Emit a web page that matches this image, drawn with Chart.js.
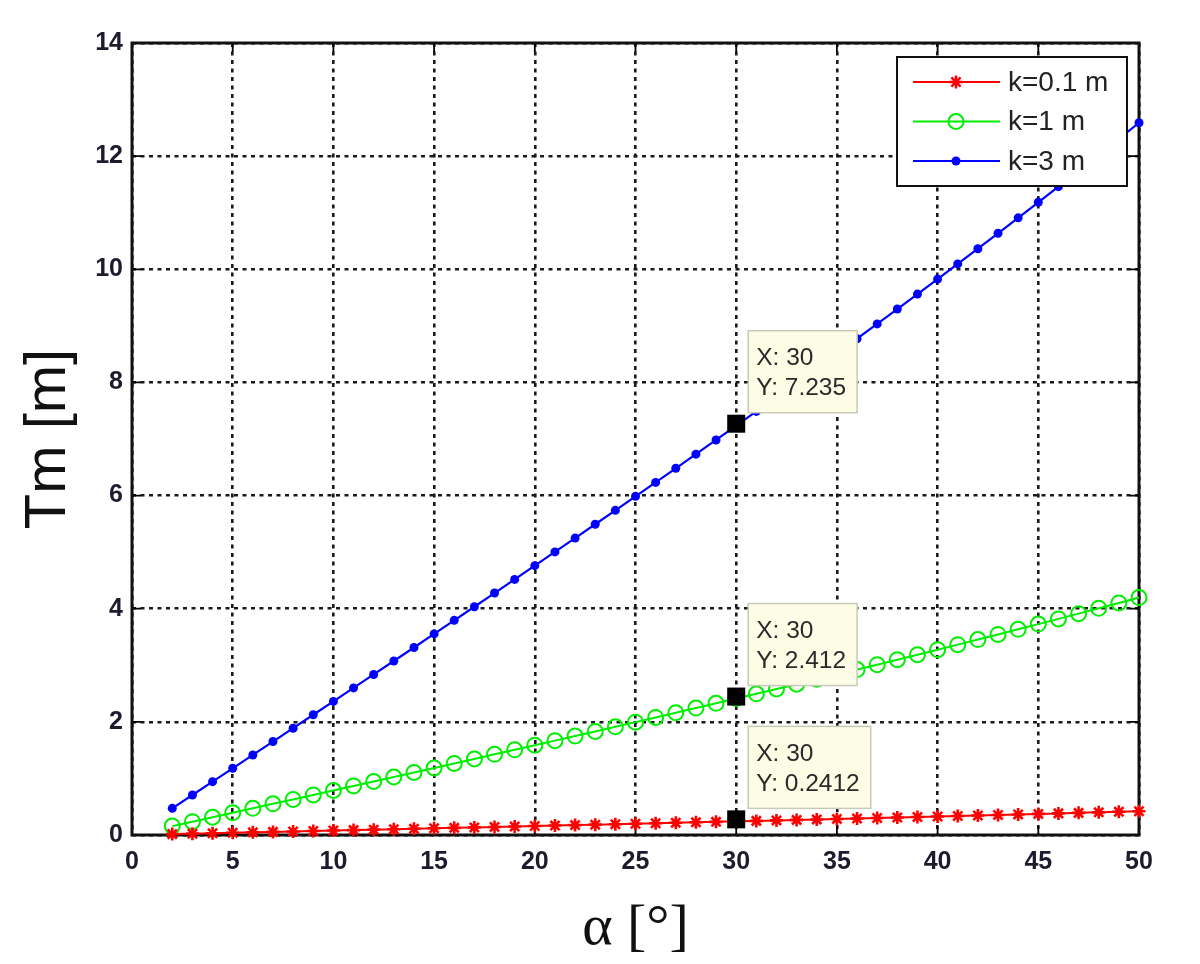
<!DOCTYPE html>
<html><head><meta charset="utf-8">
<script src="https://cdn.jsdelivr.net/npm/chart.js@4.4.0/dist/chart.umd.min.js"></script>
<style>html,body{margin:0;padding:0;background:#fff;}#wrap{width:1200px;height:964px;position:relative;}</style>
</head><body><div id="wrap"><canvas id="c" width="1200" height="964"></canvas></div>
<script>
const alphaDeg = [2,3,4,5,6,7,8,9,10,11,12,13,14,15,16,17,18,19,20,21,22,23,24,25,26,27,28,29,30,31,32,33,34,35,36,37,38,39,40,41,42,43,44,45,46,47,48,49,50];
const tmK01 = [0.0157,0.0236,0.0314,0.0393,0.0472,0.0551,0.0629,0.0708,0.0787,0.0867,0.0946,0.1025,0.1105,0.1185,0.1265,0.1345,0.1426,0.1506,0.1587,0.1668,0.1749,0.1831,0.1913,0.1995,0.2078,0.2161,0.2244,0.2328,0.2412,0.2496,0.2581,0.2666,0.2752,0.2838,0.2924,0.3011,0.3099,0.3187,0.3276,0.3365,0.3455,0.3545,0.3636,0.3728,0.3820,0.3913,0.4007,0.4102,0.4197];
const tmK1 = [0.157,0.236,0.314,0.393,0.472,0.551,0.629,0.708,0.787,0.867,0.946,1.025,1.105,1.185,1.265,1.345,1.426,1.506,1.587,1.668,1.749,1.831,1.913,1.995,2.078,2.161,2.244,2.328,2.412,2.496,2.581,2.666,2.752,2.838,2.924,3.011,3.099,3.187,3.276,3.365,3.455,3.545,3.636,3.728,3.820,3.913,4.007,4.102,4.197];
const tmK3 = [0.471,0.707,0.943,1.179,1.415,1.652,1.888,2.125,2.362,2.600,2.838,3.076,3.315,3.555,3.795,4.035,4.277,4.518,4.761,5.004,5.248,5.493,5.739,5.986,6.233,6.482,6.732,6.983,7.235,7.488,7.742,7.998,8.255,8.513,8.773,9.034,9.297,9.561,9.827,10.095,10.364,10.636,10.909,11.184,11.461,11.740,12.021,12.305,12.590];
const seriesLabels = ['k=0.1 m','k=1 m','k=3 m'];
const xTicks = [0,5,10,15,20,25,30,35,40,45,50];
const yTicks = [0,2,4,6,8,10,12,14];
const tipAlpha = 30;
const xTitle = 'α [°]';
const yTitle = 'Tm [m]';

const SANS = "'Liberation Sans', Arial, sans-serif";
const toPts = ys => alphaDeg.map((a, i) => ({x: a, y: ys[i]}));
const RED = '#ff0000', GREEN = '#00ee00', BLUE = '#0000ff';

function drawMarker(ctx, kind, x, y, color) {
  ctx.save();
  ctx.strokeStyle = color; ctx.fillStyle = color;
  if (kind === 'star') {
    const r = 6.5; ctx.lineWidth = 2.5; ctx.beginPath();
    ctx.moveTo(x - r, y); ctx.lineTo(x + r, y);
    ctx.moveTo(x, y - r); ctx.lineTo(x, y + r);
    const d = r * 0.707;
    ctx.moveTo(x - d, y - d); ctx.lineTo(x + d, y + d);
    ctx.moveTo(x - d, y + d); ctx.lineTo(x + d, y - d);
    ctx.stroke();
  } else if (kind === 'ring') {
    ctx.lineWidth = 2; ctx.beginPath(); ctx.arc(x, y, 7.5, 0, Math.PI * 2); ctx.stroke();
  } else {
    ctx.beginPath(); ctx.arc(x, y, 4.5, 0, Math.PI * 2); ctx.fill();
  }
  ctx.restore();
}
const markerKinds = ['star', 'ring', 'dot'];

const framePlugin = {
  id: 'frame',
  beforeDatasetsDraw(chart) {
    const {ctx, chartArea: a, scales} = chart;
    ctx.save();
    ctx.strokeStyle = '#000'; ctx.lineWidth = 1.8;
    const tl = 9;
    ctx.beginPath();
    xTicks.forEach(v => {
      const px = scales.x.getPixelForValue(v);
      ctx.moveTo(px, a.bottom); ctx.lineTo(px, a.bottom - tl);
      ctx.moveTo(px, a.top); ctx.lineTo(px, a.top + tl);
    });
    yTicks.forEach(v => {
      const py = scales.y.getPixelForValue(v);
      ctx.moveTo(a.left, py); ctx.lineTo(a.left + tl, py);
      ctx.moveTo(a.right, py); ctx.lineTo(a.right - tl, py);
    });
    ctx.stroke();
    ctx.lineWidth = 3; ctx.strokeStyle = '#111';
    ctx.strokeRect(a.left, a.top, a.right - a.left, a.bottom - a.top);
    ctx.restore();
  },
  afterDatasetsDraw(chart) {
    const {ctx, chartArea: a} = chart;
    ctx.save();
    // data tips
    chart.data.datasets.forEach((ds, di) => {
      const idx = ds.data.findIndex(p => p.x === tipAlpha);
      if (idx < 0) return;
      const el = chart.getDatasetMeta(di).data[idx];
      const px = el.x, py = el.y, val = ds.data[idx].y;
      ctx.font = '24.5px ' + SANS;
      const l1 = 'X: ' + tipAlpha, l2 = 'Y: ' + val;
      const w = Math.max(ctx.measureText(l1).width, ctx.measureText(l2).width) + 19;
      const bx = px + 12, by = py - 95, bh = 82;
      ctx.fillStyle = '#fdfde6';
      ctx.fillRect(bx, by, w, bh);
      ctx.strokeStyle = '#c9c9b8'; ctx.lineWidth = 1.5;
      ctx.strokeRect(bx, by, w, bh);
      ctx.fillStyle = '#2a2a2a'; ctx.textBaseline = 'middle'; ctx.textAlign = 'left';
      ctx.fillText(l1, bx + 8, by + 28);
      ctx.fillText(l2, bx + 8, by + 58);
      ctx.fillStyle = '#000';
      ctx.fillRect(px - 9, py - 11, 18, 18);
    });
    // legend
    const lw = 230, lh = 129;
    const lx = a.right - 12 - lw, ly = a.top + 14;
    ctx.fillStyle = '#fff'; ctx.fillRect(lx, ly, lw, lh);
    ctx.strokeStyle = '#111'; ctx.lineWidth = 2; ctx.strokeRect(lx, ly, lw, lh);
    ctx.font = '28px ' + SANS; ctx.textBaseline = 'middle'; ctx.textAlign = 'left';
    chart.data.datasets.forEach((ds, di) => {
      const ry = ly + 25 + di * 39.5;
      ctx.strokeStyle = ds.borderColor; ctx.lineWidth = 2;
      ctx.beginPath(); ctx.moveTo(lx + 16, ry); ctx.lineTo(lx + 103, ry); ctx.stroke();
      drawMarker(ctx, markerKinds[di], lx + 59, ry, ds.borderColor);
      ctx.fillStyle = '#222';
      ctx.fillText(ds.label, lx + 111, ry + 1);
    });
    ctx.restore();
  }
};

const tickFont = {family: SANS, size: 25, weight: 'bold'};
const ctx = document.getElementById('c').getContext('2d');
new Chart(ctx, {
  type: 'line',
  data: {
    datasets: [
      {label: seriesLabels[0], data: toPts(tmK01), borderColor: RED, backgroundColor: RED, borderWidth: 2,
       pointStyle: 'star', pointRadius: 6.5, pointBorderWidth: 2.6, pointBorderColor: RED, pointBackgroundColor: RED, clip: false},
      {label: seriesLabels[1], data: toPts(tmK1), borderColor: GREEN, backgroundColor: 'rgba(0,0,0,0)', borderWidth: 2,
       pointStyle: 'circle', pointRadius: 7.5, pointBorderWidth: 2, pointBorderColor: GREEN, pointBackgroundColor: 'rgba(0,0,0,0)', clip: false},
      {label: seriesLabels[2], data: toPts(tmK3), borderColor: BLUE, backgroundColor: BLUE, borderWidth: 2.2,
       pointStyle: 'circle', pointRadius: 4.5, pointBorderWidth: 0, pointBackgroundColor: BLUE, clip: false}
    ]
  },
  options: {
    responsive: false, animation: false,
    layout: {padding: {top: 43, right: 61, left: 0, bottom: 0}},
    plugins: {legend: {display: false}, tooltip: {enabled: false}},
    elements: {line: {tension: 0}},
    scales: {
      x: {
        type: 'linear', min: 0, max: 50,
        afterBuildTicks: s => { s.ticks = xTicks.map(v => ({value: v})); },
        afterFit: s => { s.height = 129; },
        ticks: {font: tickFont, color: '#1c1c2e', padding: 12, maxRotation: 0, autoSkip: false},
        grid: {color: '#1a1a1a', lineWidth: 2.6, drawTicks: false},
        border: {display: false, dash: [4, 4.5]},
        title: {display: true, text: xTitle, font: {family: "'Liberation Serif', 'Times New Roman', serif", size: 58, lineHeight: 1.0}, color: '#111', padding: {top: 0, bottom: 6}}
      },
      y: {
        type: 'linear', min: 0, max: 14,
        afterBuildTicks: s => { s.ticks = yTicks.map(v => ({value: v})); },
        afterFit: s => { s.width = 132; },
        ticks: {font: tickFont, color: '#1c1c2e', padding: 9, autoSkip: false},
        grid: {color: '#1a1a1a', lineWidth: 2.6, drawTicks: false},
        border: {display: false, dash: [4, 4.5]},
        title: {display: true, text: yTitle, font: {family: SANS, size: 58, lineHeight: 1.2}, color: '#111', padding: {top: 14, bottom: 0}}
      }
    }
  },
  plugins: [framePlugin]
});
</script></body></html>
